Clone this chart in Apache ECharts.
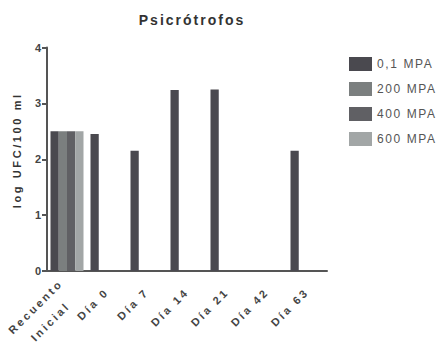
<!DOCTYPE html>
<html><head><meta charset="utf-8">
<script src="https://cdn.jsdelivr.net/npm/echarts@6/dist/echarts.min.js"></script>
<style>
html,body{margin:0;padding:0;background:#fff;}
#c{width:446px;height:348px;}
</style></head>
<body><div id="c"></div>
<script>
const categories = ['Recuento\nInicial','Día 0','Día 7','Día 14','Día 21','Día 42','Día 63'];
const seriesNames = ['0,1 MPA','200 MPA','400 MPA','600 MPA'];
const s01 = [2.5, 2.45, 2.15, 3.24, 3.25, null, 2.15];
const s200 = [2.5, null, null, null, null, null, null];
const s400 = [2.5, null, null, null, null, null, null];
const s600 = [2.5, null, null, null, null, null, null];
const yTicks = [0,1,2,3,4];
const titleText = 'Psicrótrofos';
const yName = 'log UFC/100 ml';
const colors = ['#4a494f','#7b7f7f','#606064','#a2a6a6'];
const font = 'Liberation Sans, Arial, sans-serif';
const chart = echarts.init(document.getElementById('c'), null, {renderer:'svg'});
const data = [s01,s200,s400,s600];
chart.setOption({
  animation:false,
  color: colors,
  title:{text:titleText, left:187, textAlign:'center', top:8,
    textStyle:{fontFamily:font, fontSize:14, fontWeight:'bold', color:'#333'}},
  legend:{orient:'vertical', left:344, top:52, itemWidth:23, itemHeight:14, itemGap:11,
    icon:'rect', textStyle:{fontFamily:font, fontSize:12, color:'#555'}, data:seriesNames},
  grid:{left:47, right:119, top:47.5, bottom:77},
  xAxis:{type:'category', data:categories,
    axisLine:{lineStyle:{color:'#555', width:2}},
    axisTick:{alignWithLabel:true, length:6, lineStyle:{color:'#555', width:2}},
    axisLabel:{rotate:45, margin:19, fontFamily:font, fontSize:11, fontWeight:'bold', color:'#444', interval:0,
      formatter: v => v.includes('\n') ? v.split('\n').map(p=>'{c|'+p+'}').join('\n') : v,
      rich:{
        c:{align:'center', lineHeight:21, padding:[0,9,0,0], fontFamily:font, fontSize:11, fontWeight:'bold', color:'#444'}
      }}},
  yAxis:{type:'value', min:0, max:4, interval:1,
    name:yName, nameLocation:'middle', nameGap:25,
    nameTextStyle:{fontFamily:font, fontSize:11, fontWeight:'bold', color:'#333', padding:[0,0,0,18]},
    splitLine:{show:false},
    axisLine:{show:true, lineStyle:{color:'#555', width:2}},
    axisTick:{show:true, length:5, lineStyle:{color:'#555', width:2}},
    axisLabel:{margin:6, fontFamily:font, fontSize:11, fontWeight:'bold', color:'#444',
      formatter:v=>yTicks.includes(v)?String(v):''}},
  series: seriesNames.map((n,i)=>({name:n, type:'bar', data:data[i], barGap:'0%', barCategoryGap:'17.5%'}))
});
function spacing(){
  document.querySelectorAll('#c text').forEach(t=>{
    const s = t.textContent;
    let ls = 0;
    if (s === titleText) ls = 2;
    else if (s === yName) ls = 2.6;
    else if (seriesNames.includes(s)) ls = 1.6;
    else if (/^\d$/.test(s)) ls = 0;
    else ls = 2.7;
    t.style.letterSpacing = ls + 'px';
  });
}
spacing();
chart.on('finished', spacing);
</script></body></html>
